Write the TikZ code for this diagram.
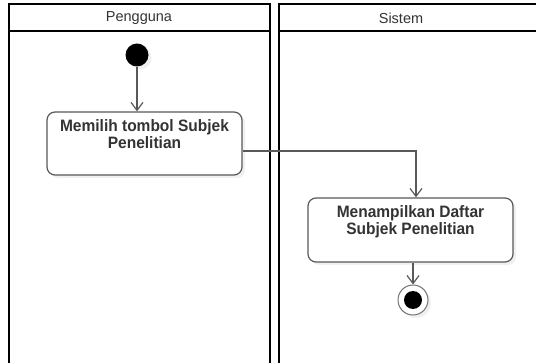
\documentclass[tikz,border=0pt]{standalone}
\usepackage{fontspec}
\setmainfont{Liberation Sans}
\newfontfamily\actionfont{Liberation Sans}[FakeStretch=0.94]
\usetikzlibrary{arrows.meta,shadows}
\begin{document}
\begin{tikzpicture}[x=1pt,y=-1pt,
  lane/.style={line width=2pt, draw=black},
  lanetitle/.style={font=\fontsize{14.5}{16}\selectfont, text=black!80},
  softshadow/.style={drop shadow={opacity=0.12, shadow xshift=3pt, shadow yshift=-3pt}},
  action/.style={draw=black!65, line width=1.2pt, rounded corners=8pt, fill=white,
    inner sep=0pt, softshadow, font=\actionfont\bfseries\fontsize{16.5}{15}\selectfont, text=black!80},
  startnode/.style={circle, fill=black, minimum size=23pt, inner sep=0pt, softshadow},
  endnode/.style={circle, draw=black!55, line width=1pt, fill=white, minimum size=30pt,
    inner sep=0pt, softshadow,
    path picture={\fill[black] (path picture bounding box.center) circle (9pt);}},
  flow/.style={draw=black!65, line width=1.2pt, -{Straight Barb[length=8pt,width=12pt]}}
]
\useasboundingbox (0,0) rectangle (536,363);

% swimlanes
\draw[lane] (8.5,363) -- (8.5,4.5) -- (270,4.5) -- (270,363);
\draw[lane] (8.5,31.5) -- (270,31.5);
\draw[lane] (536,4.5) -- (279,4.5) -- (279,363);
\draw[lane] (279,31.5) -- (536,31.5);
\node[lanetitle] (laneA) at (139,18) {Pengguna};
\node[lanetitle] (laneB) at (401,18) {Sistem};

% activity nodes
\node[startnode] (start) at (137,55) {};
\node[action] (act1) at (144.5,143.5)
  {\parbox[c][63pt][t]{195pt}{\centering\vspace{8pt}Memilih tombol Subjek\\Penelitian}};
\node[action] (act2) at (410.5,230)
  {\parbox[c][64pt][t]{205pt}{\centering\vspace{8pt}Menampilkan Daftar\\Subjek Penelitian}};
\node[endnode] (stop) at (413,300) {};

% control flow
\coordinate (turn) at (416,151);
\draw[flow] (start) -- (start |- act1.north);
\draw[flow] (act1.east |- turn) -- (turn) -- (turn |- act2.north);
\draw[flow] (act2.south -| stop) -- (stop.north);
\end{tikzpicture}
\end{document}
